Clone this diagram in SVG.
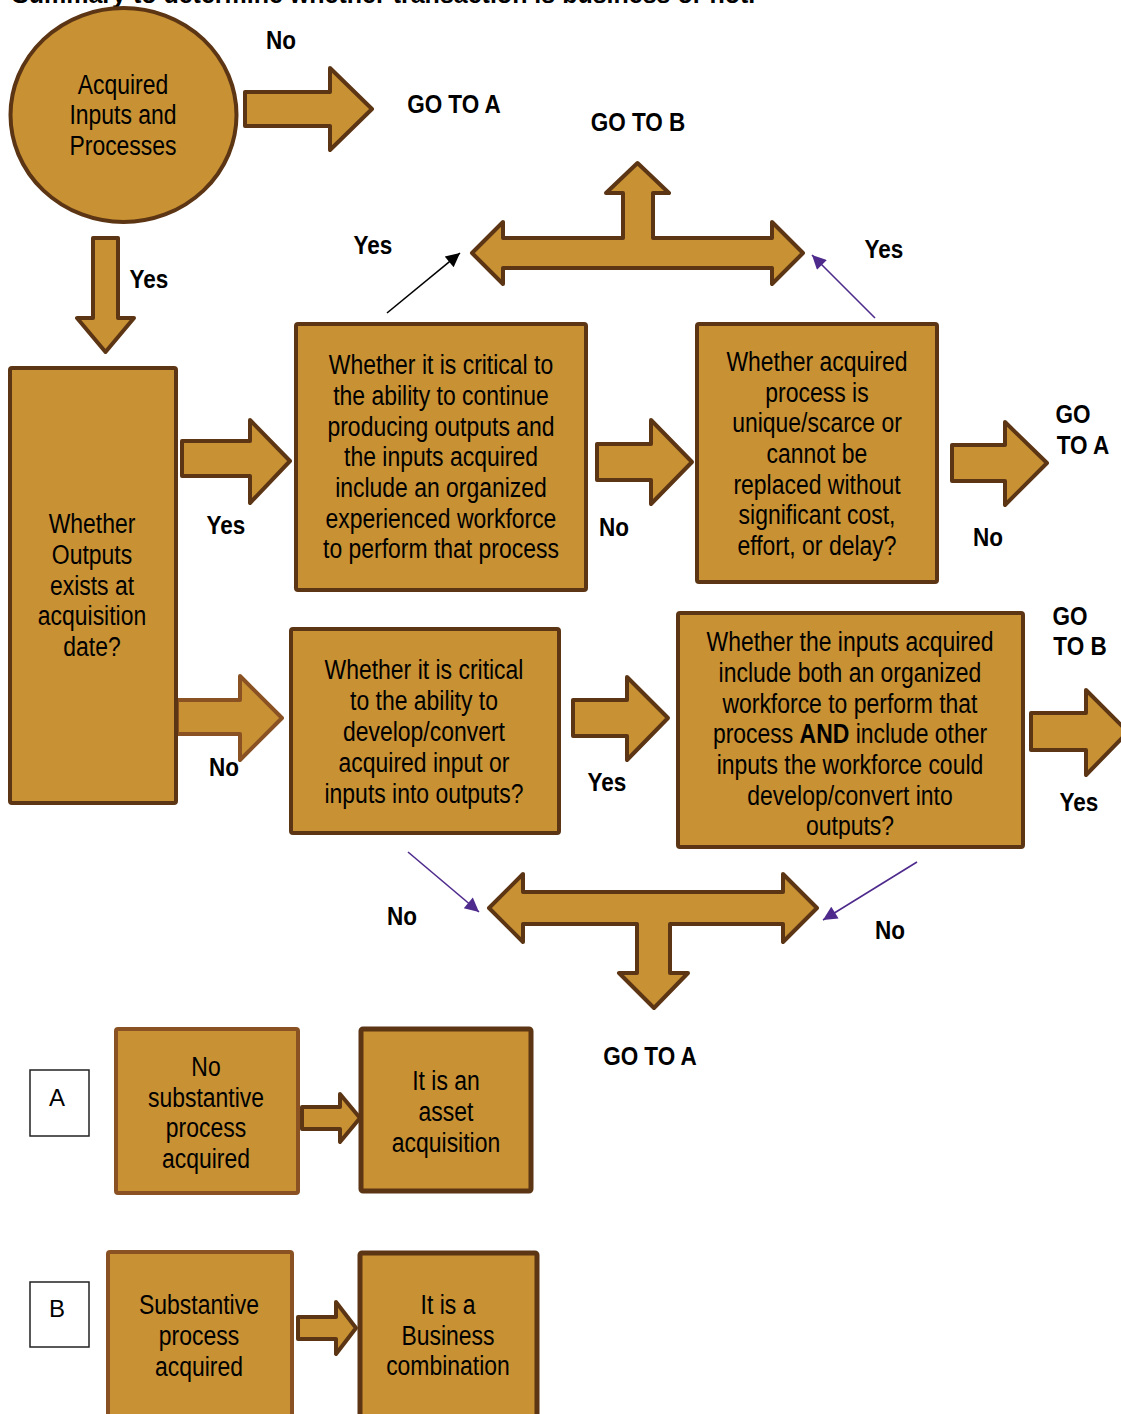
<svg xmlns="http://www.w3.org/2000/svg" width="1121" height="1414" viewBox="0 0 1121 1414">
<defs>
<style>
.nf{fill:#C89133;stroke:#5C3514;stroke-width:4;stroke-linejoin:round}
.nl{fill:#C89133;stroke:#8A5223;stroke-width:4;stroke-linejoin:round}
.nt{fill:#C89133;stroke:#5C3514;stroke-width:5;stroke-linejoin:round}
.ba{fill:#C89133;stroke:#5C3514;stroke-width:4;stroke-linejoin:round}
.bl{fill:#C89133;stroke:#8A5223;stroke-width:4;stroke-linejoin:round}
.t{font-family:'Liberation Sans Narrow','Liberation Sans',Arial,sans-serif;font-size:27px;fill:#000;text-anchor:middle;transform:scaleX(.85);transform-box:fill-box;transform-origin:center}
.lb{font-family:'Liberation Sans Narrow','Liberation Sans',Arial,sans-serif;font-size:25px;font-weight:bold;fill:#000;text-anchor:middle;transform:scaleX(.9);transform-box:fill-box;transform-origin:center}
.ln{fill:none;stroke-width:1.6}
.wb{fill:#fff;stroke:#222;stroke-width:1.5}
.lt{font-family:'Liberation Sans',Arial,sans-serif;font-size:24px;fill:#000;text-anchor:middle}
</style>
<marker id="mk" viewBox="0 0 10 10" refX="10" refY="5" markerWidth="16" markerHeight="14" markerUnits="userSpaceOnUse" orient="auto"><path d="M0,0 L10,5 L0,10 Z" fill="#000"/></marker>
<marker id="mp" viewBox="0 0 10 10" refX="10" refY="5" markerWidth="16" markerHeight="14" markerUnits="userSpaceOnUse" orient="auto"><path d="M0,0 L10,5 L0,10 Z" fill="#4E2A8C"/></marker>
</defs>
<rect width="1121" height="1414" fill="#fff"/>
<text x="12" y="3" font-family="'Liberation Sans',Arial,sans-serif" font-size="25" font-weight="bold">Summary to determine whether transaction is business or not.</text>

<g id="connectors">
<path class="ba" d="M245,92 H330 V68 L372,109 L330,150 V126 H245 Z"/>
<path class="ba" d="M93,238 H118 V318 H134 L105.5,352 L77,318 H93 Z"/>
<path class="ba" d="M182,441 H250 V420 L290,461 L250,503 V476 H182 Z"/>
<path class="bl" d="M177,700 H240 V676 L282,718 L240,760 V734 H177 Z"/>
<path class="ba" d="M597,444 H651 V420 L692,462 L651,504 V480 H597 Z"/>
<path class="ba" d="M573,700 H627 V677 L668,718 L627,760 V736 H573 Z"/>
<path class="ba" d="M952,445 H1005 V422 L1047,463 L1005,505 V481 H952 Z"/>
<path class="ba" d="M1031,713 H1086 V690 L1128,732 L1086,775 V750 H1031 Z"/>
<path class="ba" d="M472,253 L503,222 V238 H623 V193 H606 L637.5,163 L669,193 H653 V238 H772 V222 L803,253 L772,284 V268 H503 V284 Z"/>
<path class="ba" d="M489,908 L523,874 V892 H783 V874 L817,908 L783,942 V924 H670 V973 H688 L654,1008 L619,973 H637 V924 H523 V942 Z"/>
<path class="ba" d="M302,1107 H340 V1094 L360,1118 L340,1142 V1129 H302 Z"/>
<path class="ba" d="M298,1317 H336 V1302 L356,1328 L336,1354 V1339 H298 Z"/>
<line class="ln" x1="387" y1="313" x2="460" y2="253" stroke="#000" marker-end="url(#mk)"/>
<line class="ln" x1="875" y1="318" x2="812" y2="255" stroke="#4E2A8C" marker-end="url(#mp)"/>
<line class="ln" x1="408" y1="852" x2="479" y2="912" stroke="#4E2A8C" marker-end="url(#mp)"/>
<line class="ln" x1="917" y1="862" x2="823" y2="920" stroke="#4E2A8C" marker-end="url(#mp)"/>
<text class="lb" x="281" y="49">No</text>
<text class="lb" x="454" y="113">GO TO A</text>
<text class="lb" x="638" y="131">GO TO B</text>
<text class="lb" x="149" y="288">Yes</text>
<text class="lb" x="373" y="254">Yes</text>
<text class="lb" x="884" y="258">Yes</text>
<text class="lb" x="226" y="534">Yes</text>
<text class="lb" x="614" y="536">No</text>
<text class="lb" x="988" y="546">No</text>
<text class="lb" x="1073" y="423">GO</text>
<text class="lb" x="1083" y="454">TO A</text>
<text class="lb" x="224" y="776">No</text>
<text class="lb" x="607" y="791">Yes</text>
<text class="lb" x="1070" y="625">GO</text>
<text class="lb" x="1080" y="655">TO B</text>
<text class="lb" x="1079" y="811">Yes</text>
<text class="lb" x="402" y="925">No</text>
<text class="lb" x="890" y="939">No</text>
<text class="lb" x="650" y="1065">GO TO A</text>
</g>

<g id="n-start">
<ellipse class="nf" cx="123.5" cy="115" rx="113" ry="107"/>
<text class="t" x="123" y="94">Acquired</text>
<text class="t" x="123" y="124">Inputs and</text>
<text class="t" x="123" y="155">Processes</text>
</g>

<g id="n-outputs">
<rect class="nf" x="10" y="368" width="166" height="435" rx="2"/>
<text class="t" x="92" y="533">Whether</text>
<text class="t" x="92" y="564">Outputs</text>
<text class="t" x="92" y="595">exists at</text>
<text class="t" x="92" y="625">acquisition</text>
<text class="t" x="92" y="656">date?</text>
</g>

<g id="n-critical-continue">
<rect class="nf" x="296" y="324" width="290" height="266" rx="2"/>
<text class="t" x="441" y="374">Whether it is critical to</text>
<text class="t" x="441" y="405">the ability to continue</text>
<text class="t" x="441" y="436">producing outputs and</text>
<text class="t" x="441" y="466">the inputs acquired</text>
<text class="t" x="441" y="497">include an organized</text>
<text class="t" x="441" y="528">experienced workforce</text>
<text class="t" x="441" y="558">to perform that process</text>
</g>

<g id="n-unique">
<rect class="nf" x="697" y="324" width="240" height="258" rx="2"/>
<text class="t" x="817" y="371">Whether acquired</text>
<text class="t" x="817" y="402">process is</text>
<text class="t" x="817" y="432">unique/scarce or</text>
<text class="t" x="817" y="463">cannot be</text>
<text class="t" x="817" y="494">replaced without</text>
<text class="t" x="817" y="524">significant cost,</text>
<text class="t" x="817" y="555">effort, or delay?</text>
</g>

<g id="n-critical-develop">
<rect class="nf" x="291" y="629" width="268" height="204" rx="2"/>
<text class="t" x="424" y="679">Whether it is critical</text>
<text class="t" x="424" y="710">to the ability to</text>
<text class="t" x="424" y="741">develop/convert</text>
<text class="t" x="424" y="772">acquired input or</text>
<text class="t" x="424" y="803">inputs into outputs?</text>
</g>

<g id="n-both">
<rect x="678" y="613" width="345" height="234" rx="2" fill="#C89133"/>
<text class="t" x="850" y="651">Whether the inputs acquired</text>
<text class="t" x="850" y="682">include both an organized</text>
<text class="t" x="850" y="713">workforce to perform that</text>
<text class="t" x="850" y="743">process <tspan font-weight="bold">AND</tspan> include other</text>
<text class="t" x="850" y="774">inputs the workforce could</text>
<text class="t" x="850" y="805">develop/convert into</text>
<text class="t" x="850" y="835">outputs?</text>
<rect x="680" y="839" width="341" height="6" fill="#C89133"/>
<rect x="678" y="613" width="345" height="234" rx="2" fill="none" stroke="#5C3514" stroke-width="4" stroke-linejoin="round"/>
</g>

<g id="n-A-label">
<rect class="wb" x="30" y="1070" width="59" height="66"/>
<text class="lt" x="57" y="1106">A</text>
</g>

<g id="n-no-process">
<rect class="nl" x="116" y="1029" width="182" height="164" rx="2"/>
<text class="t" x="206" y="1076">No</text>
<text class="t" x="206" y="1107">substantive</text>
<text class="t" x="206" y="1137">process</text>
<text class="t" x="206" y="1168">acquired</text>
</g>

<g id="n-asset">
<rect class="nt" x="361" y="1029" width="170" height="162" rx="2"/>
<text class="t" x="446" y="1090">It is an</text>
<text class="t" x="446" y="1121">asset</text>
<text class="t" x="446" y="1152">acquisition</text>
</g>

<g id="n-B-label">
<rect class="wb" x="30" y="1282" width="59" height="65"/>
<text class="lt" x="57" y="1317">B</text>
</g>

<g id="n-process">
<rect class="nl" x="108" y="1252" width="184" height="180" rx="2"/>
<text class="t" x="199" y="1314">Substantive</text>
<text class="t" x="199" y="1345">process</text>
<text class="t" x="199" y="1376">acquired</text>
</g>

<g id="n-business">
<rect class="nt" x="360" y="1253" width="177" height="180" rx="2"/>
<text class="t" x="448" y="1314">It is a</text>
<text class="t" x="448" y="1345">Business</text>
<text class="t" x="448" y="1375">combination</text>
</g>
</svg>
